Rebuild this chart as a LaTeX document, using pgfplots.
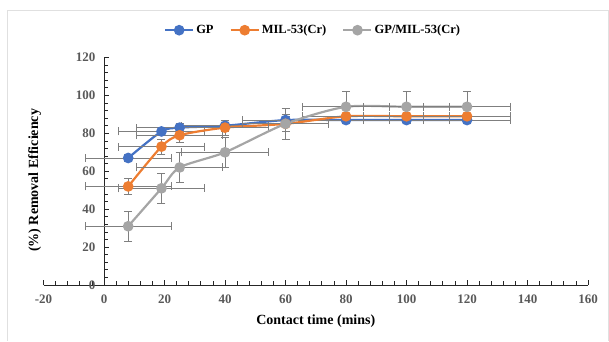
\documentclass[border=0pt]{standalone}
\usepackage{pgfplots}
\pgfplotsset{compat=1.18}
\usepackage{pgfplotstable}
\usepackage{fontspec}
\setmainfont{Liberation Serif}
\definecolor{gpblue}{HTML}{4472C4}
\definecolor{milor}{HTML}{ED7D31}
\definecolor{gpgray}{HTML}{A5A5A5}
\definecolor{ebar}{HTML}{7F7F7F}
\definecolor{ticklab}{HTML}{595959}
\pgfplotstableread{
x y ex ey
8 67 14.3 2
19 81 14.3 2
25 83 14.3 2
40 84 14.3 3
60 87 14.3 3
80 87 14.3 2
100 87 14.3 2
120 87 14.3 2
}\gp
\pgfplotstableread{
x y ex ey
8 52 14.3 4
19 73 14.3 4
25 79 14.3 4
40 83 14.3 4
60 85 14.3 4
80 89 14.3 1
100 89 14.3 1
120 89 14.3 1
}\mil
\pgfplotstableread{
x y ex ey
8 31 14.3 8
19 51 14.3 8
25 62 14.3 8
40 70 14.3 8
60 85 14.3 8
80 94 14.3 8
100 94 14.3 8
120 94 14.3 8
}\comp
\begin{document}
\begin{tikzpicture}
\useasboundingbox (0,0) rectangle (609pt,341pt);
\draw[black!12, line width=0.8pt] (7.5pt,0) -- (7.5pt,331pt) -- (608.5pt,331pt) -- (608.5pt,0);
\begin{axis}[
  at={(43.5pt,56pt)}, anchor=south west,
  scale only axis, width=544.5pt, height=227.5pt,
  xmin=-20, xmax=160, ymin=0, ymax=120,
  axis lines=middle,
  axis line style={-, line width=0.8pt, color=black!85},
  hide obscured x ticks=false, hide obscured y ticks=false,
  xtick={-20,0,...,160}, ytick={0,20,...,120},
  minor x tick num=4, minor y tick num=4,
  tick align=inside,
  major tick length=5pt, minor tick length=4pt,
  tick style={line width=0.8pt, color=black!85},
  tick label style={font=\bfseries\fontsize{13}{13}\selectfont, color=ticklab},
  xticklabel style={yshift=-6pt},
  yticklabel style={xshift=-5pt},
  /pgf/number format/assume math mode=true,
  xlabel={Contact time (mins)},
  ylabel={(\%) Removal Efficiency},
  xlabel style={at={(axis description cs:0.5,-0.158)}, anchor=center, font=\bfseries\fontsize{14}{14}\selectfont},
  ylabel style={at={(axis description cs:-0.016,0.46)}, anchor=center, rotate=90, font=\bfseries\fontsize{14}{14}\selectfont},
  clip=false,
  legend columns=3,
  legend style={at={(axis description cs:0.495,1.12)}, anchor=center, draw=none, fill=none,
    font=\bfseries\fontsize{12.5}{12.5}\selectfont,
    /tikz/every even column/.append style={column sep=14pt}},
  legend image code/.code={\draw[#1, mark repeat=2, mark phase=2] plot coordinates {(0pt,0pt)(14pt,0pt)(28pt,0pt)};},
  every axis plot/.append style={line width=2.2pt, mark=*, mark size=4.2pt, smooth, tension=0.45},
  error bars/x dir=both, error bars/x explicit,
  error bars/y dir=both, error bars/y explicit,
  error bars/error bar style={color=ebar, line width=0.8pt, solid},
  error bars/error mark options={rotate=90, color=ebar, mark size=4pt, line width=0.8pt},
]
\addplot[color=gpblue, mark options={fill=gpblue, draw=gpblue}] table[x=x, y=y, x error=ex, y error=ey] {\gp};
\addlegendentry{GP}
\addplot[color=milor, mark options={fill=milor, draw=milor}] table[x=x, y=y, x error=ex, y error=ey] {\mil};
\addlegendentry{MIL-53(Cr)}
\addplot[color=gpgray, mark options={fill=gpgray, draw=gpgray}] table[x=x, y=y, x error=ex, y error=ey] {\comp};
\addlegendentry{GP/MIL-53(Cr)}
\end{axis}
\end{tikzpicture}
\end{document}
